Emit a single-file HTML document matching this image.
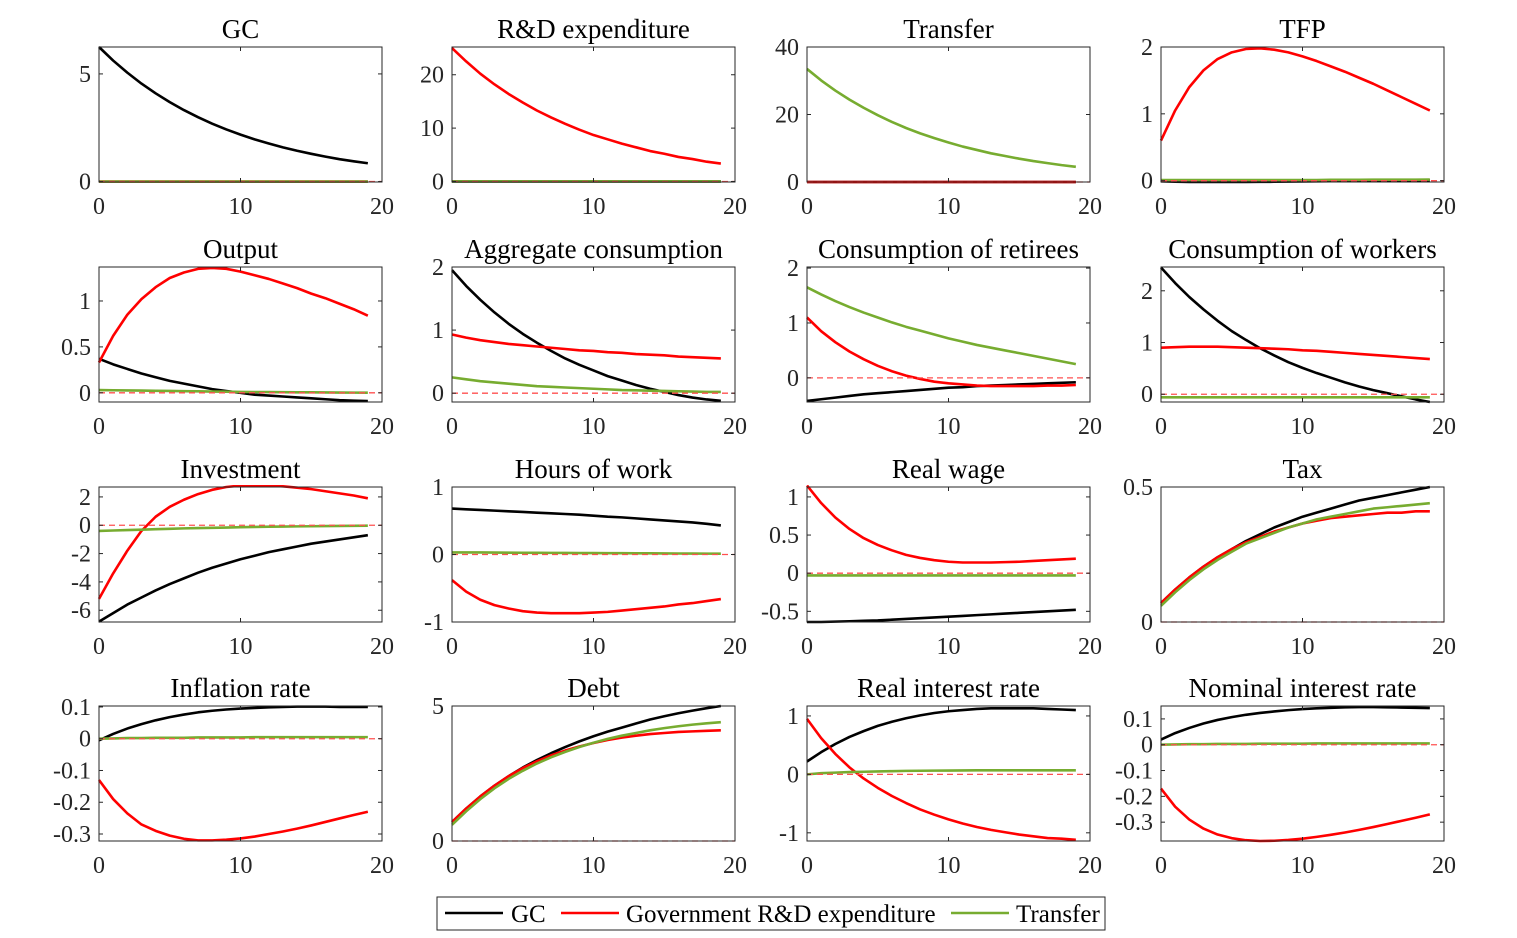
<!DOCTYPE html>
<html><head><meta charset="utf-8"><style>
html,body{margin:0;padding:0;background:#fff;}
svg{display:block;font-family:"Liberation Serif",serif;}
</style></head><body>
<svg id="fig" width="1517" height="938" viewBox="0 0 1517 938"></svg>
<script>
const steps=[0,1,2,3,4,5,6,7,8,9,10,11,12,13,14,15,16,17,18,19];
const xTicks=[0,10,20];
const Z=[0,0,0,0,0,0,0,0,0,0,0,0,0,0,0,0,0,0,0,0];
// Panel 1 GC
const gc_gc=[6.25,5.62,5.06,4.55,4.1,3.69,3.32,2.99,2.69,2.42,2.18,1.96,1.77,1.59,1.43,1.29,1.16,1.04,0.94,0.85];
// Panel 2 R&D
const rd_rd=[25,22.5,20.2,18.2,16.4,14.8,13.3,12.0,10.8,9.7,8.7,7.9,7.1,6.4,5.7,5.2,4.6,4.2,3.7,3.35];
// Panel 3 Transfer
const tr_tr=[33.5,30.1,27.1,24.4,22.0,19.8,17.8,16.0,14.4,13.0,11.7,10.5,9.5,8.5,7.7,6.9,6.2,5.6,5.0,4.5];
// Panel 4 TFP
const tfp_gc=[-0.01,-0.015,-0.02,-0.02,-0.02,-0.02,-0.02,-0.018,-0.016,-0.014,-0.012,-0.01,-0.008,-0.006,-0.004,-0.002,0,0.002,0.004,0.005];
const tfp_rd=[0.6,1.05,1.4,1.65,1.82,1.92,1.97,1.98,1.96,1.92,1.86,1.79,1.71,1.63,1.54,1.45,1.35,1.25,1.15,1.05];
const tfp_tr=[0.01,0.01,0.01,0.01,0.01,0.01,0.01,0.01,0.01,0.01,0.01,0.01,0.012,0.012,0.012,0.014,0.014,0.015,0.015,0.016];
// Panel 5 Output
const out_gc=[0.37,0.31,0.26,0.21,0.17,0.13,0.10,0.07,0.04,0.02,0.0,-0.02,-0.03,-0.04,-0.05,-0.06,-0.07,-0.08,-0.085,-0.09];
const out_rd=[0.33,0.62,0.85,1.02,1.15,1.25,1.31,1.35,1.36,1.35,1.32,1.28,1.24,1.19,1.14,1.08,1.03,0.97,0.91,0.84];
const out_tr=[0.03,0.028,0.026,0.024,0.022,0.02,0.018,0.016,0.014,0.012,0.01,0.009,0.008,0.007,0.006,0.005,0.004,0.003,0.002,0.001];
// Panel 6 Aggregate consumption
const ac_gc=[1.95,1.70,1.48,1.28,1.10,0.94,0.80,0.67,0.55,0.45,0.36,0.27,0.20,0.13,0.07,0.02,-0.03,-0.07,-0.10,-0.12];
const ac_rd=[0.93,0.88,0.84,0.81,0.78,0.76,0.74,0.72,0.70,0.68,0.67,0.65,0.64,0.62,0.61,0.60,0.58,0.57,0.56,0.55];
const ac_tr=[0.25,0.22,0.19,0.17,0.15,0.13,0.11,0.10,0.09,0.08,0.07,0.06,0.05,0.045,0.04,0.035,0.03,0.025,0.02,0.02];
// Panel 7 Consumption of retirees
const cr_gc=[-0.42,-0.39,-0.36,-0.33,-0.30,-0.28,-0.26,-0.24,-0.22,-0.20,-0.18,-0.17,-0.15,-0.14,-0.13,-0.12,-0.11,-0.10,-0.09,-0.08];
const cr_rd=[1.1,0.85,0.65,0.48,0.34,0.22,0.12,0.04,-0.02,-0.07,-0.10,-0.12,-0.14,-0.15,-0.15,-0.15,-0.15,-0.14,-0.14,-0.13];
const cr_tr=[1.65,1.52,1.40,1.29,1.19,1.10,1.01,0.93,0.86,0.79,0.72,0.66,0.60,0.55,0.50,0.45,0.40,0.35,0.30,0.25];
// Panel 8 Consumption of workers
const cw_gc=[2.45,2.15,1.88,1.64,1.42,1.22,1.05,0.89,0.75,0.62,0.51,0.41,0.32,0.23,0.15,0.08,0.02,-0.04,-0.1,-0.15];
const cw_rd=[0.9,0.91,0.92,0.92,0.92,0.91,0.9,0.89,0.88,0.87,0.85,0.84,0.82,0.8,0.78,0.76,0.74,0.72,0.7,0.68];
const cw_tr=[-0.06,-0.06,-0.06,-0.06,-0.06,-0.06,-0.06,-0.06,-0.06,-0.06,-0.06,-0.06,-0.06,-0.06,-0.06,-0.06,-0.06,-0.06,-0.06,-0.06];
// Panel 9 Investment
const inv_gc=[-6.8,-6.2,-5.6,-5.1,-4.6,-4.15,-3.75,-3.35,-3.0,-2.7,-2.4,-2.15,-1.9,-1.7,-1.5,-1.3,-1.15,-1.0,-0.85,-0.7];
const inv_rd=[-5.2,-3.4,-1.8,-0.4,0.6,1.3,1.8,2.2,2.5,2.7,2.8,2.8,2.8,2.75,2.65,2.55,2.4,2.25,2.1,1.9];
const inv_tr=[-0.4,-0.37,-0.34,-0.31,-0.28,-0.25,-0.22,-0.2,-0.18,-0.16,-0.14,-0.12,-0.1,-0.09,-0.08,-0.07,-0.06,-0.05,-0.04,-0.03];
// Panel 10 Hours of work
const hw_gc=[0.68,0.67,0.66,0.65,0.64,0.63,0.62,0.61,0.60,0.59,0.575,0.56,0.55,0.535,0.52,0.505,0.49,0.475,0.455,0.43];
const hw_rd=[-0.38,-0.55,-0.67,-0.75,-0.80,-0.84,-0.86,-0.87,-0.87,-0.87,-0.86,-0.85,-0.83,-0.81,-0.79,-0.77,-0.74,-0.72,-0.69,-0.66];
const hw_tr=[0.03,0.03,0.03,0.028,0.027,0.026,0.025,0.024,0.023,0.022,0.021,0.02,0.019,0.018,0.017,0.016,0.015,0.014,0.013,0.012];
// Panel 11 Real wage
const rw_gc=[-0.64,-0.64,-0.635,-0.63,-0.625,-0.62,-0.61,-0.60,-0.59,-0.58,-0.57,-0.56,-0.55,-0.54,-0.53,-0.52,-0.51,-0.50,-0.49,-0.48];
const rw_rd=[1.15,0.92,0.73,0.58,0.46,0.37,0.30,0.24,0.20,0.17,0.15,0.14,0.14,0.14,0.145,0.15,0.16,0.17,0.18,0.19];
const rw_tr=[-0.03,-0.03,-0.03,-0.03,-0.03,-0.03,-0.03,-0.03,-0.03,-0.03,-0.03,-0.03,-0.03,-0.03,-0.03,-0.03,-0.03,-0.03,-0.03,-0.03];
// Panel 12 Tax
const tax_gc=[0.07,0.12,0.165,0.205,0.24,0.27,0.30,0.325,0.35,0.37,0.39,0.405,0.42,0.435,0.45,0.46,0.47,0.48,0.49,0.50];
const tax_rd=[0.07,0.12,0.165,0.205,0.24,0.27,0.295,0.315,0.335,0.35,0.365,0.375,0.385,0.39,0.395,0.40,0.405,0.405,0.41,0.41];
const tax_tr=[0.06,0.11,0.155,0.195,0.23,0.26,0.29,0.31,0.33,0.35,0.365,0.38,0.39,0.40,0.41,0.42,0.425,0.43,0.435,0.44];
// Panel 13 Inflation
const inf_gc=[-0.005,0.015,0.032,0.046,0.058,0.068,0.076,0.083,0.088,0.092,0.095,0.097,0.099,0.1,0.101,0.101,0.101,0.1,0.1,0.1];
const inf_rd=[-0.13,-0.19,-0.235,-0.27,-0.29,-0.305,-0.315,-0.32,-0.32,-0.318,-0.314,-0.308,-0.3,-0.292,-0.283,-0.273,-0.262,-0.251,-0.24,-0.23];
const inf_tr=[0,0.001,0.002,0.002,0.003,0.003,0.003,0.004,0.004,0.004,0.004,0.005,0.005,0.005,0.005,0.005,0.005,0.005,0.005,0.005];
// Panel 14 Debt
const debt_gc=[0.7,1.2,1.65,2.05,2.4,2.72,3.0,3.25,3.48,3.69,3.88,4.05,4.2,4.35,4.5,4.62,4.73,4.83,4.92,5.0];
const debt_rd=[0.7,1.2,1.65,2.05,2.4,2.7,2.95,3.17,3.35,3.5,3.63,3.74,3.83,3.9,3.96,4.0,4.04,4.06,4.08,4.1];
const debt_tr=[0.6,1.1,1.55,1.95,2.3,2.6,2.87,3.1,3.3,3.48,3.64,3.78,3.9,4.0,4.1,4.18,4.25,4.31,4.36,4.4];
// Panel 15 Real interest rate
const rir_gc=[0.22,0.38,0.52,0.64,0.74,0.83,0.9,0.96,1.01,1.05,1.08,1.1,1.12,1.13,1.13,1.13,1.13,1.12,1.11,1.1];
const rir_rd=[0.95,0.62,0.35,0.12,-0.07,-0.23,-0.37,-0.49,-0.6,-0.69,-0.77,-0.84,-0.9,-0.95,-0.99,-1.03,-1.06,-1.09,-1.1,-1.12];
const rir_tr=[0.0,0.02,0.03,0.04,0.045,0.05,0.055,0.06,0.062,0.064,0.066,0.068,0.07,0.07,0.07,0.07,0.07,0.07,0.07,0.07];
// Panel 16 Nominal interest rate
const nir_gc=[0.02,0.045,0.065,0.082,0.096,0.107,0.116,0.123,0.129,0.134,0.138,0.141,0.143,0.145,0.146,0.146,0.145,0.144,0.143,0.142];
const nir_rd=[-0.17,-0.24,-0.29,-0.325,-0.348,-0.362,-0.37,-0.373,-0.372,-0.369,-0.364,-0.357,-0.349,-0.34,-0.33,-0.319,-0.307,-0.295,-0.283,-0.27];
const nir_tr=[0,0.001,0.002,0.002,0.003,0.003,0.003,0.004,0.004,0.004,0.004,0.005,0.005,0.005,0.005,0.005,0.005,0.005,0.005,0.005];

const titles=["GC","R&D expenditure","Transfer","TFP","Output","Aggregate consumption","Consumption of retirees","Consumption of workers","Investment","Hours of work","Real wage","Tax","Inflation rate","Debt","Real interest rate","Nominal interest rate"];
const yLims=[[-0.02,6.25],[-0.1,25.2],[0,40],[-0.02,2],[-0.1,1.37],[-0.14,2],[-0.44,2.02],[-0.15,2.46],[-6.83,2.7],[-1,1],[-0.64,1.13],[0,0.5],[-0.322,0.103],[0,5],[-1.14,1.17],[-0.373,0.15]];
const yTickVals=[[0,5],[0,10,20],[0,20,40],[0,1,2],[0,0.5,1],[0,1,2],[0,1,2],[0,1,2],[-6,-4,-2,0,2],[-1,0,1],[-0.5,0,0.5,1],[0,0.5],[-0.3,-0.2,-0.1,0,0.1],[0,5],[-1,0,1],[-0.3,-0.2,-0.1,0,0.1]];
const seriesGC=[gc_gc,Z,Z,tfp_gc,out_gc,ac_gc,cr_gc,cw_gc,inv_gc,hw_gc,rw_gc,tax_gc,inf_gc,debt_gc,rir_gc,nir_gc];
const seriesRD=[Z,rd_rd,Z,tfp_rd,out_rd,ac_rd,cr_rd,cw_rd,inv_rd,hw_rd,rw_rd,tax_rd,inf_rd,debt_rd,rir_rd,nir_rd];
const seriesTR=[Z,Z,tr_tr,tfp_tr,out_tr,ac_tr,cr_tr,cw_tr,inv_tr,hw_tr,rw_tr,tax_tr,inf_tr,debt_tr,rir_tr,nir_tr];

const NS="http://www.w3.org/2000/svg";
const svg=document.getElementById('fig');
function mk(tag,attrs,parent){const e=document.createElementNS(NS,tag);for(const k in attrs)e.setAttribute(k,attrs[k]);(parent||svg).appendChild(e);return e;}
const colX=[99,452,807,1161], rowY=[47,267,487,706], W=283, H=135;
titles.forEach((t,i)=>{
  const x0=colX[i%4], y0=rowY[Math.floor(i/4)];
  const [lo,hi]=yLims[i];
  const sx=v=>x0+v/20*W;
  const sy=v=>y0+H-(v-lo)/(hi-lo)*H;
  const g=mk('g',{});
  
  
  const tt=mk('text',{x:x0+W/2,y:y0-9,'text-anchor':'middle','font-size':27,fill:'#000'},g);
  tt.textContent=t;
  
  
  const clip='c'+i;
  const cp=mk('clipPath',{id:clip},g);mk('rect',{x:x0-2,y:y0-2,width:W+4,height:H+4},cp);
  const plot=mk('g',{'clip-path':'url(#'+clip+')'},g);
  const line=(arr,col,name)=>{
    const p=mk('polyline',{points:arr.map((v,k)=>sx(steps[k])+','+sy(v)).join(' '),fill:'none',stroke:col,'stroke-width':2.6,'stroke-linejoin':'round'},plot);
    
    
  };
  line(seriesGC[i],'#000','line-gc');
  line(seriesRD[i],'#ff0000','line-rd');
  line(seriesTR[i],'#77ac30','line-transfer');
  const zl=mk('line',{x1:x0,x2:x0+W,y1:sy(0),y2:sy(0),stroke:'#ff5050','stroke-width':1.3,'stroke-dasharray':'6,4'},plot);
  
  
  const box=mk('rect',{x:x0,y:y0,width:W,height:H,fill:'none',stroke:'#262626','stroke-width':1},g);
  
  
  xTicks.forEach(v=>{
    const X=sx(v);
    mk('line',{x1:X,x2:X,y1:y0+H,y2:y0+H-4,stroke:'#262626'},g);
    mk('line',{x1:X,x2:X,y1:y0,y2:y0+4,stroke:'#262626'},g);
    const l=mk('text',{x:X,y:y0+H+32,'text-anchor':'middle','font-size':24,fill:'#262626'},g);
    l.textContent=v;
    
    
  });
  yTickVals[i].forEach(v=>{
    const Y=sy(v);
    mk('line',{x1:x0,x2:x0+4,y1:Y,y2:Y,stroke:'#262626'},g);
    mk('line',{x1:x0+W,x2:x0+W-4,y1:Y,y2:Y,stroke:'#262626'},g);
    const l=mk('text',{x:x0-8,y:Y+8,'text-anchor':'end','font-size':24,fill:'#262626'},g);
    l.textContent=String(v);
    
    
  });
});
// legend
const lg=mk('g',{});


mk('rect',{x:437,y:897,width:668,height:33,fill:'#fff',stroke:'#262626','stroke-width':1},lg);
const entries=[["GC","#000",445,511],["Government R&D expenditure","#ff0000",561,626],["Transfer","#77ac30",951,1016]];
entries.forEach(([lab,col,lx,tx])=>{
  const e=mk('g',{},lg);
  
  
  mk('line',{x1:lx,x2:lx+58,y1:913,y2:913,stroke:col,'stroke-width':2.6},e);
  const t=mk('text',{x:tx,y:922,'font-size':25,fill:'#000'},e);
  t.textContent=lab;
});
</script>
</body></html>
